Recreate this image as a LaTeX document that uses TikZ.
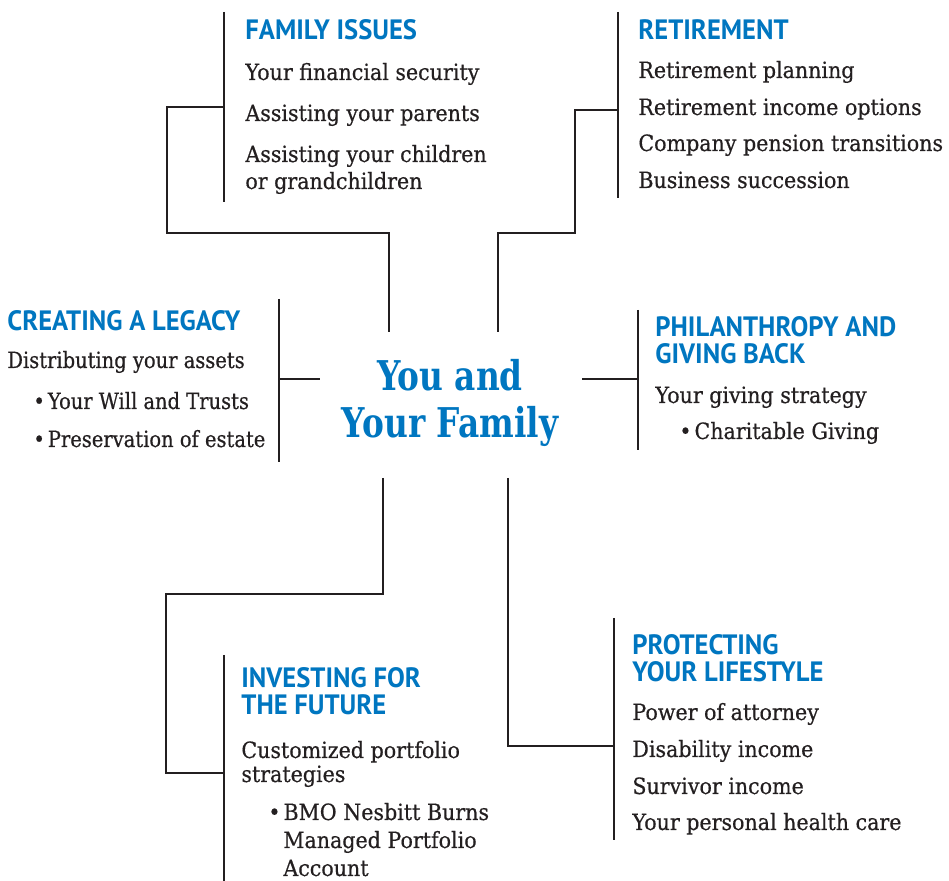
\documentclass[tikz,border=0pt]{standalone}
\usepackage{fontspec}
\setmainfont{DejaVu Serif}[FakeStretch=0.92,FakeBold=0.5]
\newfontfamily\headfont{PT Sans}[FakeStretch=0.95]
\newfontfamily\hubfont{DejaVu Serif}[FakeStretch=0.8]
\newfontfamily\tightfont{DejaVu Serif}[FakeStretch=0.87,FakeBold=0.5]
\newcommand{\dotitem}{\textbullet\hspace{1.5pt}}
\definecolor{bmoblue}{RGB}{0,118,192}
\definecolor{ink}{RGB}{35,31,32}

\tikzset{
  head/.style={anchor=base west, inner sep=0pt, text=bmoblue,
    font=\headfont\bfseries\fontsize{14}{14}\selectfont},
  item/.style={anchor=base west, inner sep=0pt, text=ink,
    font=\fontsize{11.2}{12}\selectfont},
  tightitem/.style={item, font=\tightfont\fontsize{11.2}{12}\selectfont},
  hub/.style={anchor=base, inner sep=0pt, text=bmoblue,
    font=\hubfont\bfseries\fontsize{20.5}{20}\selectfont},
  bar/.style={draw=ink, line width=1.3pt},
  link/.style={draw=ink, line width=1pt},
}

\begin{document}
\begin{tikzpicture}[x=0.5pt,y=-0.5pt]
	\useasboundingbox (0,0) rectangle (949,881);

	% middle
	\node[hub] (you) at (450,391) {You and};
	\node[hub] (family) at (450,438) {Your Family};

	% family issues
	\node[head] (fam-h) at (245,40) {FAMILY ISSUES};
	\foreach \y/\t [count=\i] in {80/Your financial security, 121/Assisting your parents,
	    162/Assisting your children, 189/or grandchildren} {
	     \node[item] (fam-\i) at (245,\y) {\t};
	}
	\coordinate (fam-top) at (224,12);
	\coordinate (fam-bot) at (224,202);
	\coordinate (fam-j) at (224,107);
	\coordinate (fam-end) at (389,332);
	\draw[bar] (fam-top) -- (fam-bot);
	\draw[link] (fam-j) -| (167,233) -| (fam-end);

	% retirement
	\node[head] (ret-h) at (638,40) {RETIREMENT};
	\foreach \y/\t [count=\i] in {78/Retirement planning, 115/Retirement income options,
	    151/Company pension transitions, 188/Business succession} {
	     \node[item] (ret-\i) at (638,\y) {\t};
	}
	\coordinate (ret-top) at (618,12);
	\coordinate (ret-bot) at (618,198);
	\coordinate (ret-j) at (618,110);
	\coordinate (ret-end) at (498,332);
	\draw[bar] (ret-top) -- (ret-bot);
	\draw[link] (ret-j) -| (575,233) -| (ret-end);

	% legacy
	\node[head] (leg-h) at (7,331) {CREATING A LEGACY};
	\node[tightitem] (leg-1) at (7,368) {Distributing your assets};
	\node[tightitem] (leg-2) at (33,409) {\dotitem Your Will and Trusts};
	\node[tightitem] (leg-3) at (33,447) {\dotitem Preservation of estate};
	\coordinate (leg-top) at (279,299);
	\coordinate (leg-bot) at (279,462);
	\coordinate (leg-j) at (279,379);
	\coordinate (leg-end) at (320,379);
	\draw[bar] (leg-top) -- (leg-bot);
	\draw[link] (leg-j) -- (leg-end);

	% philanthropy
	\node[head] (phil-h1) at (655,337) {PHILANTHROPY AND};
	\node[head] (phil-h2) at (655,364) {GIVING BACK};
	\node[item] (phil-1) at (655,403) {Your giving strategy};
	\node[item] (phil-2) at (679,439) {\dotitem Charitable Giving};
	\coordinate (phil-top) at (638,310);
	\coordinate (phil-bot) at (638,450);
	\coordinate (phil-j) at (638,379);
	\coordinate (phil-end) at (582,379);
	\draw[bar] (phil-top) -- (phil-bot);
	\draw[link] (phil-j) -- (phil-end);

	% investing
	\node[head] (inv-h1) at (241,688) {INVESTING FOR};
	\node[head] (inv-h2) at (241,715) {THE FUTURE};
	\node[item] (inv-1) at (241,758) {Customized portfolio};
	\node[item] (inv-2) at (241,782) {strategies};
	\node[item] (inv-3) at (268,820) {\dotitem BMO Nesbitt Burns};
	\node[item] (inv-4) at (283,848) {Managed Portfolio};
	\node[item] (inv-5) at (283,876) {Account};
	\coordinate (inv-top) at (224,655);
	\coordinate (inv-bot) at (224,881);
	\coordinate (inv-j) at (224,773);
	\coordinate (inv-start) at (383,478);
	\draw[bar] (inv-top) -- (inv-bot);
	\draw[link] (inv-start) |- (166,594) |- (inv-j);

	% protecting
	\node[head] (prot-h1) at (632,655) {PROTECTING};
	\node[head] (prot-h2) at (632,682) {YOUR LIFESTYLE};
	\foreach \y/\t [count=\i] in {720/Power of attorney, 757/Disability income,
	    794/Survivor income, 830/Your personal health care} {
	     \node[item] (prot-\i) at (632,\y) {\t};
	}
	\coordinate (prot-top) at (614,618);
	\coordinate (prot-bot) at (614,840);
	\coordinate (prot-j) at (614,746);
	\coordinate (prot-start) at (508,478);
	\draw[bar] (prot-top) -- (prot-bot);
	\draw[link] (prot-start) |- (prot-j);
\end{tikzpicture}
\end{document}
